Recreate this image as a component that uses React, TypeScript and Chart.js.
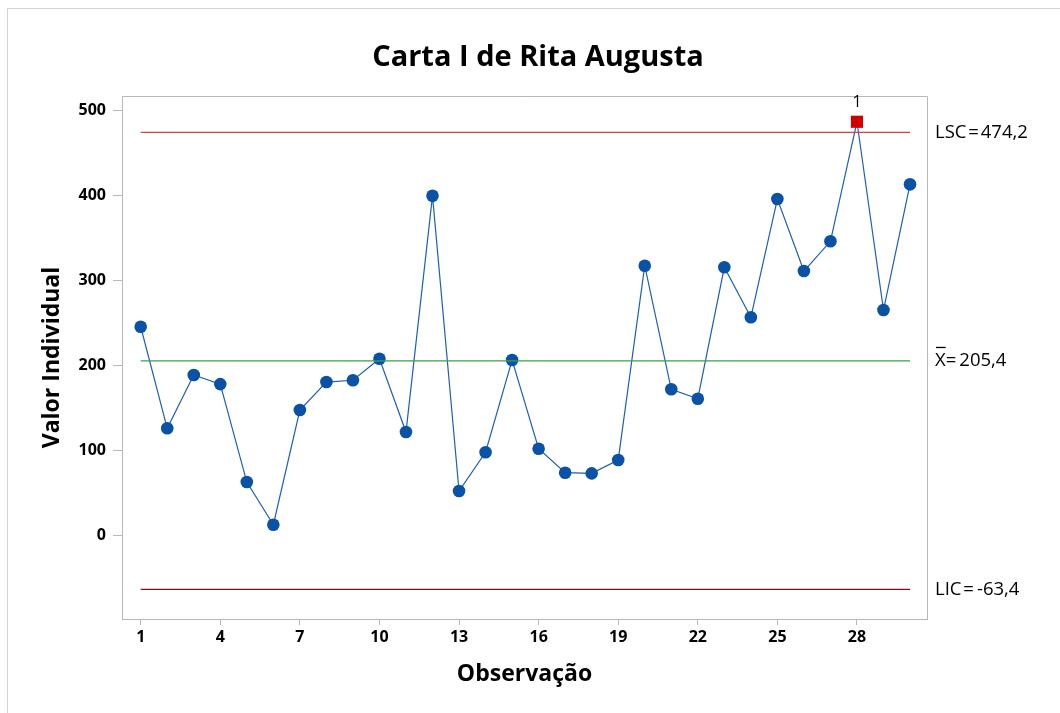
import React, { useEffect, useRef } from 'react';
import { Chart, registerables } from 'chart.js';

Chart.register(...registerables);

const chartTitle = 'Carta I de Rita Augusta';
const xAxisTitle = 'Observação';
const yAxisTitle = 'Valor Individual';

const observations = [1, 2, 3, 4, 5, 6, 7, 8, 9, 10, 11, 12, 13, 14, 15, 16, 17, 18, 19, 20, 21, 22, 23, 24, 25, 26, 27, 28, 29, 30];
const values = [245.5, 126, 188.7, 178, 62.8, 12.6, 147.5, 180.4, 182.5, 207.9, 121.6, 399.6, 52.2, 97.8, 206.3, 102, 73.8, 73, 88.7, 317.3, 171.9, 160.8, 315.4, 256.6, 395.7, 311, 346, 486.6, 265.1, 413];

const lsc = 474.2;
const xbar = 205.4;
const lic = -63.4;

const xTicks = [1, 4, 7, 10, 13, 16, 19, 22, 25, 28];
const yTicks = [0, 100, 200, 300, 400, 500];

const lscLabel = 'LSC\u200A=\u200A474,2';
const xbarLabel = '=\u2009205,4';
const licLabel = 'LIC\u200A=\u2009-63,4';
const outLabel = '1';

const FONT = '"Open Sans", "Noto Sans", sans-serif';

export default function App() {
  const canvasRef = useRef<HTMLCanvasElement | null>(null);

  useEffect(() => {
    const canvas = canvasRef.current;
    if (!canvas) return;

    const points = observations.map((o, i) => ({ x: o, y: values[i] }));
    const first = observations[0];
    const last = observations[observations.length - 1];

    const overlay = {
      id: 'overlay',
      afterDraw(chart: any) {
        const { ctx, chartArea, scales } = chart;
        const { left, top, right, bottom } = chartArea;
        const xs = scales.x;
        const ys = scales.y;
        ctx.save();
        ctx.strokeStyle = '#b8b8b8';
        ctx.lineWidth = 1;
        ctx.beginPath();
        ctx.moveTo(left, top + 0.5);
        ctx.lineTo(right + 0.5, top + 0.5);
        ctx.lineTo(right + 0.5, bottom);
        ctx.stroke();

        ctx.fillStyle = '#000';
        ctx.textBaseline = 'middle';
        ctx.font = `bold 29px ${FONT}`;
        ctx.textAlign = 'center';
        ctx.fillText(chartTitle, 538, 58);
        ctx.font = `bold 23px ${FONT}`;
        ctx.fillText(xAxisTitle, (left + right) / 2, 674);
        ctx.save();
        ctx.translate(52, (top + bottom) / 2);
        ctx.rotate(-Math.PI / 2);
        ctx.fillText(yAxisTitle, 0, 0);
        ctx.restore();

        ctx.font = `18.5px ${FONT}`;
        ctx.textAlign = 'left';
        const lx = right + 8;
        ctx.fillText(lscLabel, lx, ys.getPixelForValue(lsc));
        const yb = ys.getPixelForValue(xbar);
        ctx.fillText('X', lx, yb);
        const xw = ctx.measureText('X').width;
        ctx.fillText(xbarLabel, lx + xw, yb);
        ctx.fillRect(lx + 1, yb - 14, xw - 1, 1.3);
        ctx.fillText(licLabel, lx, ys.getPixelForValue(lic));

        ctx.font = `16px ${FONT}`;
        ctx.textAlign = 'center';
        values.forEach((v, i) => {
          if (v > lsc || v < lic) {
            ctx.fillText(outLabel, xs.getPixelForValue(observations[i]), ys.getPixelForValue(v) - 19);
          }
        });
        ctx.restore();
      },
    };

    const chart = new Chart(canvas, {
      type: 'line',
      data: {
        datasets: [
          {
            data: [{ x: first, y: lsc }, { x: last, y: lsc }],
            borderColor: '#d04545',
            borderWidth: 1.3,
            pointRadius: 0,
          },
          {
            data: [{ x: first, y: xbar }, { x: last, y: xbar }],
            borderColor: '#3aa048',
            borderWidth: 1.3,
            pointRadius: 0,
          },
          {
            data: [{ x: first, y: lic }, { x: last, y: lic }],
            borderColor: '#8a1010',
            borderWidth: 1.3,
            pointRadius: 0,
          },
          {
            data: points,
            borderColor: '#1d5fb2',
            borderWidth: 1.2,
            pointStyle: (c: any) => {
              const v = values[c.dataIndex];
              return v > lsc || v < lic ? 'rect' : 'circle';
            },
            pointRadius: (c: any) => {
              const v = values[c.dataIndex];
              return v > lsc || v < lic ? 8.6 : 6.3;
            },
            pointBackgroundColor: (c: any) => {
              const v = values[c.dataIndex];
              return v > lsc || v < lic ? '#d10000' : '#0a52a6';
            },
            pointBorderWidth: 0,
            pointBorderColor: 'rgba(0,0,0,0)',
          },
        ],
      },
      options: {
        animation: false,
        responsive: false,
        maintainAspectRatio: false,
        devicePixelRatio: 1,
        layout: { padding: { left: 0, top: 96, right: 133, bottom: 0 } },
        plugins: { legend: { display: false }, tooltip: { enabled: false }, title: { display: false } },
        scales: {
          x: {
            type: 'linear',
            min: 0.295,
            max: 30.64,
            afterBuildTicks: (s: any) => {
              s.ticks = xTicks.map((v) => ({ value: v }));
            },
            afterFit: (s: any) => {
              s.height = 94;
            },
            grid: { drawOnChartArea: false, drawTicks: true, tickLength: 6, color: '#b8b8b8' },
            border: { display: true, color: '#b8b8b8' },
            ticks: {
              autoSkip: false,
              maxRotation: 0,
              padding: 3,
              color: '#000',
              font: { family: FONT, size: 16, weight: 'bold' },
              callback: (v: any) => String(v),
            },
          },
          y: {
            type: 'linear',
            min: -98.3,
            max: 516.9,
            afterBuildTicks: (s: any) => {
              s.ticks = yTicks.map((v) => ({ value: v }));
            },
            afterFit: (s: any) => {
              s.width = 122;
            },
            grid: { drawOnChartArea: false, drawTicks: true, tickLength: 9, color: '#b8b8b8' },
            border: { display: true, color: '#b8b8b8' },
            ticks: {
              padding: 7,
              color: '#000',
              font: { family: FONT, size: 16, weight: 'bold' },
              callback: (v: any) => String(v),
            },
          },
        },
      },
      plugins: [overlay],
    });

    return () => chart.destroy();
  }, []);

  return (
    <div style={{ position: 'fixed', left: 0, top: 0, width: 1060, height: 713, background: '#fff' }}>
      <div
        style={{
          position: 'absolute',
          left: 7,
          top: 8,
          width: 1053,
          height: 705,
          borderLeft: '1px solid #d4d4d4',
          borderTop: '1px solid #d4d4d4',
          boxSizing: 'border-box',
        }}
      />
      <canvas ref={canvasRef} width={1060} height={713} style={{ position: 'absolute', left: 0, top: 0, width: 1060, height: 713 }} />
    </div>
  );
}
